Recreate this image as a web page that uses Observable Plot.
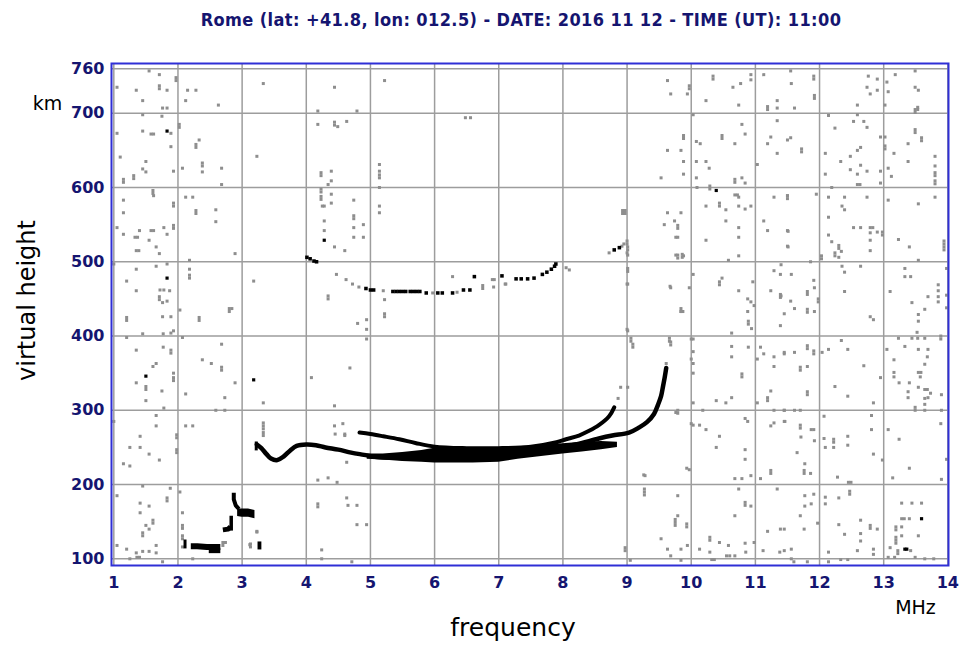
<!DOCTYPE html>
<html>
<head>
<meta charset="utf-8">
<script src="https://cdn.jsdelivr.net/npm/d3@7"></script>
<script src="https://cdn.jsdelivr.net/npm/@observablehq/plot@0.6"></script>
<style>
  html, body { margin: 0; padding: 0; background: #fff; }
  #title {
    width: 960px; height: 42px; box-sizing: border-box; padding-left: 82px;
    text-align: center; line-height: 40px;
    font-family: "Liberation Sans Narrow", "DejaVu Sans Condensed", sans-serif;
    font-weight: bold; font-size: 18px; color: #151570; letter-spacing: 0.4px;
  }
  #chart svg { display: block; }
</style>
</head>
<body>
<div id="title">Rome (lat: +41.8, lon: 012.5) - DATE: 2016 11 12 - TIME (UT): 11:00</div>
<div id="chart"></div>
<script>
// Axis ticks
const freqTicks = [1, 2, 3, 4, 5, 6, 7, 8, 9, 10, 11, 12, 13, 14];
const heightTicks = [100, 200, 300, 400, 500, 600, 700, 760];

// Ordinary F2 echo trace (frequency MHz, virtual height km)
const oFreq = [3.23, 3.3, 3.38, 3.45, 3.55, 3.65, 3.75, 3.85, 4.0, 4.15, 4.3, 4.5, 4.7, 4.9, 5.1, 5.4, 6.0, 7.0, 7.8, 8.2, 8.56, 8.77, 9.03, 9.19, 9.31, 9.42, 9.48, 9.53, 9.56, 9.59, 9.61];
const oHeight = [254, 249, 241, 235, 233, 238, 246, 252, 254, 253, 250, 247, 243, 240, 237, 236, 236, 238, 247, 254, 262, 266, 270, 277, 284, 295, 307, 319, 332, 346, 357];

// Second F2 trace, ending near 8.9 MHz
const xFreq = [4.83, 5.0, 5.2, 5.45, 5.7, 6.0, 6.5, 7.0, 7.5, 7.9, 8.05, 8.25, 8.4, 8.56, 8.72, 8.8];
const xHeight = [270, 268, 265, 261, 256, 251, 249, 249, 251, 257, 261, 266, 272, 280, 292, 304];

// Dense overlapping echoes of the F band
const bandFreq = [4.95, 5.2, 5.5, 5.8, 6.0, 6.3, 6.6, 7.0, 7.3, 7.6, 8.0, 8.3, 8.6, 8.85];
const bandLow = [234, 233, 231, 230, 229, 229, 229, 230, 234, 237, 241, 244, 247, 250];
const bandHigh = [241, 241, 243, 246, 249, 250, 250, 250, 251, 253, 255, 257, 258, 257];

// Sporadic E / E layer echoes, one list per trace fragment
const eSegments = [
  {w: 6, pts: [[2.2, 117], [2.3, 117], [2.45, 116], [2.55, 116], [2.66, 116]]},
  {w: 5, pts: [[2.48, 111], [2.66, 111]]},
  {w: 3, pts: [[2.11, 114], [2.11, 126]]},
  {w: 5, pts: [[2.70, 139], [2.78, 140], [2.82, 143]]},
  {w: 3.5, pts: [[2.83, 138], [2.83, 158]]},
  {w: 4, pts: [[2.87, 189], [2.87, 180], [2.9, 172], [2.95, 167]]},
  {w: 3, pts: [[3.22, 246], [3.22, 258]]},
  {w: 8, pts: [[3.24, 118], [3.3, 118]]}
];
const eBlockFreq = [2.93, 3.0, 3.1, 3.2];
const eBlockLow = [157, 156, 156, 154];
const eBlockHigh = [167, 167, 167, 165];

// Multiple-hop (2F) echo
const hopBlack = [[4.01, 506], [4.06, 504], [4.12, 501], [4.16, 500], [4.93, 464], [5.0, 462], [5.05, 462], [5.35, 460], [5.4, 460], [5.45, 460], [5.5, 460], [5.55, 460], [5.62, 460], [5.67, 460], [5.72, 460], [5.77, 460], [5.87, 458], [6.05, 458], [6.12, 458], [6.28, 458], [6.45, 462], [6.55, 462], [6.62, 480], [7.05, 481], [7.27, 477], [7.35, 477], [7.45, 477], [7.55, 478], [7.68, 483], [7.75, 486], [7.82, 490], [7.87, 494], [7.89, 497], [8.8, 516], [8.88, 519]];
const hopGray = [[4.47, 483], [4.62, 476], [4.72, 470], [4.82, 466], [5.2, 461], [5.97, 458], [6.35, 459], [6.93, 476], [7.1, 470], [8.05, 492], [8.1, 489], [8.72, 512], [8.92, 521], [8.95, 524], [8.86, 316], [8.9, 331], [9.61, 363]];

// Isolated strong specks
const blackSpecks = [[1.83, 676], [1.83, 478], [1.50, 346], [3.18, 341], [10.39, 596], [13.59, 154], [13.33, 113], [13.36, 113], [4.28, 529]];

// Background interference, low frequencies
const noiseLow = [[1.55,757],[1.71,752],[1.97,748],[1.97,744],[1.05,735],[1.71,737],[1.71,733],[1.35,731],[1.83,731],[2.15,731],[2.28,731],[1.45,717],[2.12,717],[2.63,711],[1.45,698],[1.76,707],[1.83,707],[1.75,696],
[2.02,685],[2.02,681],[1.05,673],[1.45,676],[1.58,672],[1.62,672],[1.89,673],[2.33,664],[2.28,658],[2.28,654],[1.89,655],[1.10,641],[1.50,635],[2.38,633],[2.38,629],[1.45,625],[1.50,621],[1.93,622],[2.07,626],[2.38,621],[2.68,626],[1.15,611],[1.15,607],[1.31,616],[1.31,612],[2.68,604],[1.61,596],[1.61,592],[1.62,589],
[1.15,583],[1.15,566],[1.05,546],[1.93,579],[1.93,575],[2.12,587],[2.23,587],[2.28,569],[2.28,565],[2.59,570],[2.59,554],[1.93,549],[1.93,545],[1.78,546],[1.15,537],[1.33,533],[1.37,533],[1.40,542],[1.58,542],[1.62,542],[1.83,537],[1.55,529],[1.66,520],[1.35,515],[1.39,515],[1.71,511],[2.89,511],[2.18,502],
[1.0,497],[1.35,490],[1.66,494],[1.83,497],[2.18,490],[2.18,482],[2.18,478],[1.20,474],[1.35,461],[1.72,462],[1.78,462],[1.87,461],[1.71,453],[1.71,449],[1.76,445],[1.83,447],[2.03,435],[2.80,437],[2.84,437],[2.80,433],[1.20,425],[1.20,421],[1.76,426],[1.89,426],[2.33,425],[2.33,421],[1.45,403],[1.77,403],[1.89,404],[1.93,407],[3.18,474],
[1.20,398],[2.07,398],[1.35,381],[1.77,385],[1.89,381],[1.89,377],[2.68,389],[1.66,363],[1.61,359],[1.93,350],[1.93,340],[1.93,344],[1.35,337],[1.50,328],[1.50,332],[1.75,326],[2.38,368],[2.52,363],[2.68,358],[2.68,354],[2.89,337],[2.12,322],[2.73,317],[1.50,313],[1.78,303],[2.59,300],[2.73,300],
[1.0,285],[1.66,293],[1.66,279],[2.12,279],[2.23,279],[1.41,265],[1.98,267],[1.98,263],[1.25,250],[1.41,250],[1.98,247],[1.98,243],[1.55,241],[1.71,233],[1.15,228],[1.25,225],
[1.05,185],[1.45,198],[1.88,195],[2.03,190],[1.83,182],[1.83,178],[1.41,175],[1.55,171],[1.41,162],[2.07,162],[1.61,148],[1.61,152],[1.50,145],[1.55,140],[2.07,145],[2.07,141],[1.45,131],[1.45,135],[2.07,131],[2.07,127],[1.66,118],[1.05,118],[1.45,110],[1.55,110],[1.20,113],[1.35,108],[1.66,108],[1.25,100],[1.36,102],[1.40,102],[1.76,96],[2.23,100],[2.07,116],[2.70,118],[2.70,122],[2.74,122],[3.23,137],[3.13,116],[3.13,120]];

// Background interference, mid band
const noiseMid = [[3.33,740],[4.44,735],[5.22,744],[4.18,703],[4.79,703],[4.18,685],[4.44,688],[4.44,684],[4.49,682],[4.63,689],[6.48,694],[6.56,694],[3.23,642],[4.23,616],[4.23,620],[4.39,622],[4.39,609],[4.34,604],[4.23,598],[4.23,594],[5.14,631],[5.14,622],[5.14,613],[5.14,617],[5.14,600],[4.23,584],[4.23,588],[4.28,575],[4.25,575],[4.39,591],[4.39,579],[4.74,583],[5.14,575],[5.14,566],[4.28,555],[4.28,542],[4.74,558],[4.74,562],[4.74,546],[4.89,550],[4.74,533],[4.89,533],[4.44,520],[4.60,515],[8.93,569],[8.93,565],
[4.34,450],[4.34,454],[5.22,449],[4.8,417],[4.94,422],[4.94,409],[4.94,396],[5.22,426],[5.22,430],[4.68,357],[4.08,344],[4.44,306],[4.44,279],[4.57,282],[4.45,268],[4.6,268],[4.63,230],[6.28,480],[6.75,464],[6.75,468],[6.9,476],[6.92,466],[7.11,470],[9.0,524],[9.0,528],[9.0,512],[9.0,470],[9.0,409],[9.06,393],[9.06,397],[9.76,533],[9.76,509],[9.86,506],[9.86,510],[9.67,467],[9.84,433],[9.84,437],[9.66,393],[9.66,397],[10.0,396],[10.0,369],[9.76,297],[9.26,213],[9.93,222],[10.0,282],
[4.18,170],[4.18,174],[4.65,172],[4.79,172],[4.79,146],[4.94,146],[4.24,112],[4.24,100],[4.71,96],[4.18,206],[4.34,209],[4.48,203],[4.63,182],[3.33,310],[3.33,283],[3.33,279],[3.33,275],[3.33,270],[3.33,266],[3.23,136],[3.12,119],[4.60,266]];

// Background interference, 9-11.5 MHz
const noiseHigh = [[9.97,737],[9.97,733],[10.34,750],[10.34,746],[9.63,744],[9.68,726],[9.94,726],[10.65,735],[10.77,740],[10.93,752],[10.93,745],[11.13,752],[10.23,717],[10.74,711],[11.19,705],[11.19,709],[11.34,717],[11.34,707],[10.03,698],
[10.79,685],[11.34,690],[9.88,666],[9.88,670],[10.08,662],[10.14,659],[10.48,666],[10.48,670],[10.68,659],[10.84,672],[9.63,650],[9.84,650],[11.19,659],[11.24,668],[11.50,664],[11.34,646],[9.88,635],[10.08,635],[10.23,635],[10.28,626],[9.88,618],[10.08,613],[9.53,613],[10.68,611],[10.68,607],[10.79,613],[10.84,606],[11.03,631],[10.29,602],[10.29,598],[10.09,600],
[8.97,569],[8.97,565],[10.68,590],[10.74,587],[10.72,590],[10.44,575],[10.44,579],[10.23,575],[10.54,570],[10.74,575],[10.84,571],[10.93,575],[11.29,587],[11.50,589],[11.50,585],[9.63,566],[9.84,566],[9.58,550],[9.79,549],[9.79,545],[9.74,555],[10.54,555],[10.74,546],[11.13,555],[11.19,542],[9.79,533],[10.23,529],[10.74,533],[11.50,542],[11.50,521],[9.01,520],[9.01,516],[9.01,509],[9.79,509],[9.79,505],[9.88,508],[10.58,502],[10.74,508],
[9.01,491],[9.01,487],[9.01,470],[9.68,465],[9.97,465],[10.03,483],[10.44,473],[10.44,469],[10.48,478],[10.74,461],[10.96,473],[11.29,488],[11.39,483],[11.24,461],[11.39,456],[11.39,452],[10.88,450],[10.93,446],[10.98,441],[10.88,433],[9.87,433],[9.84,433],[10.89,420],[10.89,416],[10.94,410],[11.39,414],[9.01,407],[10.63,404],
[9.09,389],[9.09,385],[9.68,392],[9.68,388],[10.03,396],[10.03,379],[10.03,363],[10.03,350],[10.63,386],[10.63,372],[10.89,385],[11.08,385],[11.03,369],[11.13,376],[11.29,372],[11.45,376],[11.29,359],[10.79,349],[10.79,345],[11.24,326],[11.19,317],[11.19,313],[10.39,313],[10.54,310],[10.63,317],[10.18,300],[10.03,310],[11.03,310],[11.29,300],[11.45,300],[9.01,331],[9.79,300],[9.79,296],
[10.03,280],[10.13,280],[10.23,274],[10.44,265],[10.88,285],[10.84,289],[11.24,279],[11.29,283],[11.45,285],[10.39,250],[10.84,247],[10.84,234],[9.97,220],[10.68,208],[10.79,208],[10.93,212],[11.08,208],[11.24,219],[11.24,215],[9.28,212],
[9.27,194],[9.27,190],[9.27,186],[9.79,185],[10.74,194],[10.84,176],[10.84,172],[10.93,171],[11.34,194],[10.68,158],[9.75,149],[9.75,145],[9.75,153],[9.93,147],[9.93,143],[9.79,158],[9.53,127],[11.19,137],[11.39,140],[10.29,129],[10.29,125],[10.44,122],[10.58,118],[10.84,121],[10.98,122],[9.63,113],[9.84,113],[9.94,118],[10.13,113],[10.29,109],[10.55,104],[10.6,104],[10.68,104],[10.85,109],[8.97,111],[8.97,115],[9.84,98],[11.12,111],[11.38,109],[9.68,104],[9.05,98],[10.32,99],[10.36,99]];

// Background interference, 11.5-14 MHz
const noiseTop = [[11.55,757],[11.91,750],[11.91,746],[11.56,740],[11.92,724],[11.92,720],[11.61,707],[12.76,750],[12.90,746],[12.74,735],[12.79,726],[12.90,731],[12.59,711],[12.14,697],[12.59,698],[13.05,742],[13.18,752],[13.49,735],[13.54,731],[13.07,729],[13.02,711],[13.49,701],[13.49,705],[13.53,705],[13.53,708],[13.49,757],
[12.53,689],[12.69,689],[12.24,680],[12.74,681],[11.55,667],[11.72,648],[11.72,652],[12.95,668],[13.02,668],[13.02,652],[13.02,656],[13.49,674],[13.49,678],[13.59,663],[13.59,667],[13.38,659],[12.09,646],[12.64,654],[12.59,650],[12.33,635],[12.48,642],[13.16,646],[13.38,635],[13.80,642],[13.80,629],[13.80,620],[13.80,616],[13.80,609],[13.80,605],[12.09,618],[12.48,624],[12.59,618],[12.74,622],[12.95,622],[12.64,630],[13.12,615],[13.07,626],[12.59,604],[12.63,604],[12.19,600],[12.95,606],
[11.50,589],[11.95,591],[12.14,587],[12.39,587],[12.74,587],[12.35,575],[12.39,570],[13.07,583],[13.54,578],[13.80,587],[12.14,560],[12.53,546],[12.64,546],[12.79,546],[12.83,546],[12.90,540],[12.98,540],[12.98,536],[11.51,541],[11.51,520],[12.79,539],[12.79,529],[12.14,536],[12.19,527],[12.30,522],[12.30,518],[12.24,512],[12.24,508],[12.34,514],[12.79,515],[13.23,530],[13.40,520],[13.94,524],[13.94,520],[13.94,516],[13.94,528],[13.54,502],
[12.03,504],[12.03,508],[11.40,496],[11.86,500],[11.56,483],[12.30,506],[12.35,494],[12.39,486],[12.64,494],[13.33,491],[13.33,480],[13.42,480],[13.98,491],[11.91,475],[11.92,465],[11.81,460],[11.81,456],[11.55,447],[11.40,454],[11.61,437],[11.81,436],[11.81,432],[11.92,433],[11.45,430],[11.98,446],[11.98,450],[12.39,460],[12.79,426],[12.84,422],[13.10,460],[13.44,445],[13.64,436],[13.69,453],[13.85,469],[13.85,461],[13.85,453],[13.85,446],[13.98,438],[13.54,429],[13.54,420],[13.98,455],[13.52,405],
[11.45,378],[11.61,378],[11.81,387],[11.81,383],[11.91,380],[11.91,376],[12.04,378],[12.14,382],[12.34,394],[12.44,382],[11.70,358],[11.70,354],[11.81,359],[12.69,360],[12.24,332],[12.44,319],[11.81,325],[11.81,321],[12.84,310],[12.95,344],[13.05,382],[13.23,397],[13.33,386],[13.44,397],[13.53,397],[13.64,397],[13.54,382],[13.69,382],[13.68,372],[13.64,362],[13.54,351],[13.58,351],[13.57,345],[13.16,368],[13.16,351],[13.16,345],[13.24,337],[13.40,337],[13.54,331],[13.64,328],[13.68,328],[13.73,323],[13.69,317],[13.64,316],[13.64,308],[13.38,325],[13.38,317],[13.90,321],[13.89,400],[13.89,396],[11.45,300],[11.61,300],[11.70,300],[13.49,300],[13.49,304],[13.64,300],[13.90,300],
[11.46,285],[12.07,292],[11.70,276],[11.70,280],[11.87,274],[11.91,274],[11.71,264],[11.92,259],[12.07,262],[12.22,261],[12.22,257],[12.44,265],[12.81,293],[12.81,274],[12.09,250],[12.22,250],[12.44,253],[11.65,243],[11.77,228],[11.76,215],[11.76,219],[11.86,215],[12.28,210],[12.45,203],[12.49,203],[12.84,241],[12.98,233],[13.07,274],[13.24,261],[13.40,222],[13.14,209],[13.89,282],[13.98,234],[13.90,207],
[11.77,185],[11.91,187],[11.77,171],[11.87,174],[12.09,183],[12.09,174],[12.30,182],[12.47,187],[12.47,191],[11.70,158],[11.76,140],[11.45,140],[11.56,113],[11.97,148],[12.30,146],[12.39,133],[12.64,152],[12.64,134],[12.64,124],[12.79,145],[12.79,141],[12.90,140],[12.59,111],[12.84,113],[12.14,109],[13.28,175],[13.44,175],[13.59,175],[13.28,154],[13.32,154],[13.40,154],[13.19,143],[13.19,139],[13.19,125],[13.19,121],[13.19,129],[13.28,143],[13.28,131],[13.54,131],[13.42,111],[13.10,115],[13.22,111],[13.22,107],[11.45,111],[11.56,100],[11.60,96],[11.81,96],[12.33,99],[12.44,99],[12.84,106],[13.07,102],[13.17,102],[13.49,102],[13.64,100],[13.78,100],[12.14,96]];

const pairs = (arr) => arr.map(([f, h]) => ({f, h}));
const zipLine = (fs, hs) => fs.map((f, i) => ({f, h: hs[i]}));
const zipBand = (fs, lo, hi) => fs.map((f, i) => ({f, lo: lo[i], hi: hi[i]}));

const noise = pairs([...noiseLow, ...noiseMid, ...noiseHigh, ...noiseTop]);
const gridGray = "#9d9d9d";
const navy = "#151570";

const chart = Plot.plot({
  width: 960,
  height: 608,
  marginLeft: 111,
  marginRight: 12,
  marginTop: 21,
  marginBottom: 85,
  style: {fontFamily: "DejaVu Sans, Verdana, sans-serif", fontSize: "16px", fontWeight: "bold", color: navy, background: "#fff", overflow: "visible"},
  x: {type: "linear", domain: [0.964, 14.01]},
  y: {type: "linear", domain: [91, 767]},
  marks: [
    Plot.ruleX(freqTicks, {stroke: gridGray, strokeWidth: 1.5}),
    Plot.ruleY(heightTicks, {stroke: gridGray, strokeWidth: 1.5}),
    Plot.axisX(freqTicks, {tickSize: 0, tickPadding: 11, label: null, fontSize: 16, tickFormat: d => String(d)}),
    Plot.axisY(heightTicks, {tickSize: 0, tickPadding: 7, label: null, fontSize: 16, tickFormat: d => String(d)}),

    // interference
    Plot.dot(noise, {x: "f", y: "h", symbol: "square", r: 1.7, fill: "#8e8e8e", stroke: "none"}),
    Plot.dot(pairs(hopGray), {x: "f", y: "h", symbol: "square", r: 1.7, fill: "#8e8e8e", stroke: "none"}),

    // E region
    ...eSegments.map(s => Plot.line(pairs(s.pts), {x: "f", y: "h", stroke: "#000", strokeWidth: s.w, strokeLinecap: "butt"})),
    Plot.areaY(zipBand(eBlockFreq, eBlockLow, eBlockHigh), {x: "f", y1: "lo", y2: "hi", fill: "#000"}),

    // F region
    Plot.areaY(zipBand(bandFreq, bandLow, bandHigh), {x: "f", y1: "lo", y2: "hi", fill: "#000"}),
    Plot.line(zipLine(oFreq, oHeight), {x: "f", y: "h", stroke: "#000", strokeWidth: 4.5, curve: "catmull-rom"}),
    Plot.line(zipLine(xFreq, xHeight), {x: "f", y: "h", stroke: "#000", strokeWidth: 4, curve: "catmull-rom"}),

    // multiple-hop echo and specks
    Plot.dot(pairs(hopBlack), {x: "f", y: "h", symbol: "square", r: 2, fill: "#000", stroke: "none"}),
    Plot.dot(pairs(blackSpecks), {x: "f", y: "h", symbol: "square", r: 1.8, fill: "#000", stroke: "none"}),

    Plot.frame({stroke: "#2f2fd6", strokeWidth: 2}),

    // axis titles
    Plot.text(["km"], {frameAnchor: "top-left", textAnchor: "middle", dx: -64, dy: 33, fontSize: 19, fontWeight: "normal", fill: "#000"}),
    Plot.text(["virtual height"], {frameAnchor: "left", textAnchor: "middle", dx: -84, dy: -14, rotate: -90, fontSize: 24, fontWeight: "normal", fill: "#000"}),
    Plot.text(["frequency"], {frameAnchor: "bottom", textAnchor: "middle", dx: -17, dy: 70, fontSize: 25, fontWeight: "normal", fill: "#000"}),
    Plot.text(["MHz"], {frameAnchor: "bottom-right", textAnchor: "middle", dx: -33, dy: 48, fontSize: 19, fontWeight: "normal", fill: "#000"})
  ]
});
document.getElementById("chart").append(chart);
</script>
</body>
</html>
